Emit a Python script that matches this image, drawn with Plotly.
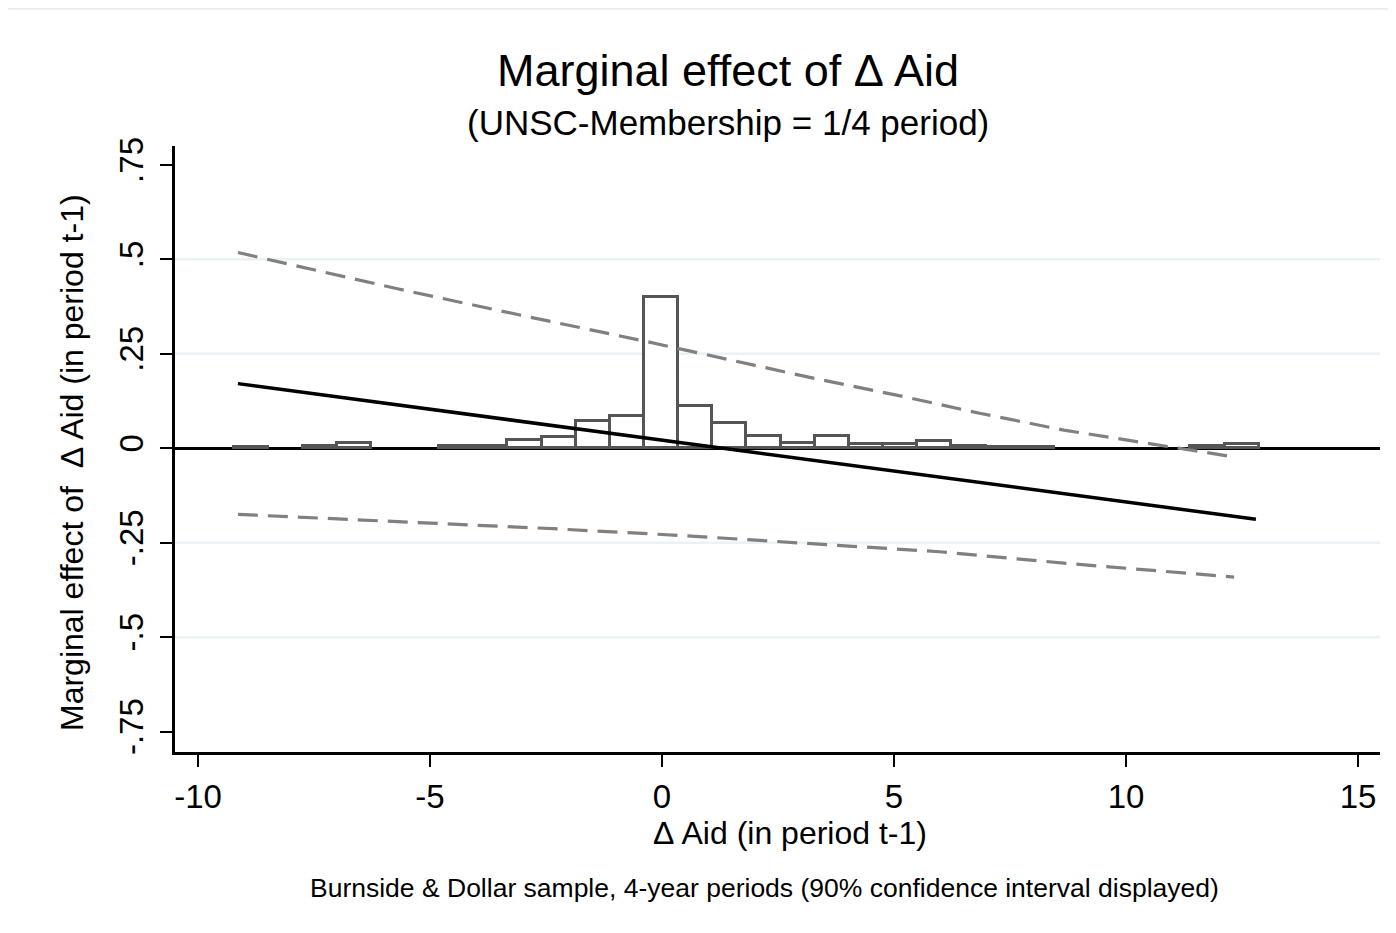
import plotly.graph_objects as go

# ---- data ----
bin_start = -9.22
bin_width = 0.736
hist_frac = [0.002, None, 0.005, 0.014, None, None, 0.007, 0.007, 0.022, 0.029,
             0.071, 0.086, 0.401, 0.113, 0.067, 0.033, 0.014, 0.032, 0.010, 0.010,
             0.020, 0.006, 0.002, 0.002, None, None, None, None, 0.005, 0.011]

me_x = [-9.14, 12.80]
me_y = [0.171, -0.188]

upper_x = [-9.14, -5.70, -3.04, -0.39, 1.98, 3.32, 5.08, 6.87, 8.66, 11.10, 12.33]
upper_y = [0.518, 0.422, 0.352, 0.284, 0.220, 0.184, 0.140, 0.092, 0.048, 0.001, -0.023]

lower_x = [-9.14, -7.10, -4.90, -2.35, 0.43, 3.20, 5.98, 8.75, 12.33]
lower_y = [-0.175, -0.186, -0.199, -0.213, -0.231, -0.252, -0.274, -0.305, -0.341]

x_ticks = [-10, -5, 0, 5, 10, 15]
x_ticktext = ["-10", "-5", "0", "5", "10", "15"]
y_ticks = [-0.75, -0.5, -0.25, 0, 0.25, 0.5, 0.75]
y_ticktext = ["-.75", "-.5", "-.25", "0", ".25", ".5", ".75"]
grid_vals = [-0.5, -0.25, 0.25, 0.5]

title = "Marginal effect of \u0394 Aid"
subtitle = "(UNSC-Membership = 1/4 period)"
x_title = "\u0394 Aid (in period t-1)"
y_title = "Marginal effect of  \u0394 Aid (in period t-1)"
note = "Burnside & Dollar sample, 4-year periods (90% confidence interval displayed)"

FONT = "Liberation Sans, Arial, sans-serif"

# ---- figure ----
bx, by = [], []
for i, h in enumerate(hist_frac):
    if h is not None:
        bx.append(bin_start + bin_width * (i + 0.5))
        by.append(h)

fig = go.Figure()
fig.add_trace(go.Bar(x=bx, y=by, width=bin_width,
                     marker=dict(color="white", line=dict(color="#555555", width=3)),
                     hoverinfo="skip"))
fig.add_trace(go.Scatter(x=upper_x, y=upper_y, mode="lines",
                         line=dict(color="#808080", width=3.2, dash="20px,10px")))
fig.add_trace(go.Scatter(x=lower_x, y=lower_y, mode="lines",
                         line=dict(color="#808080", width=3.2, dash="20px,10px")))
fig.add_trace(go.Scatter(x=me_x, y=me_y, mode="lines",
                         line=dict(color="black", width=3.5)))

for g in grid_vals:
    fig.add_shape(type="line", xref="paper", yref="y", x0=0, x1=1, y0=g, y1=g,
                  line=dict(color="#eaf2f3", width=2.5), layer="below")

# thin light line at the very top of the image
fig.add_shape(type="line", xref="paper", yref="paper",
              x0=-0.139, x1=1.02, y0=1.2265, y1=1.2265,
              line=dict(color="#e6eef0", width=2))

fig.update_layout(
    width=1396, height=933,
    margin=dict(l=167, r=24, t=138, b=189),
    paper_bgcolor="white", plot_bgcolor="white",
    showlegend=False, bargap=0, barmode="overlay",
    font=dict(family=FONT, color="black"),
    xaxis=dict(range=[-10.496, 15.474], tickvals=x_ticks, ticktext=x_ticktext,
               showline=True, linecolor="black", linewidth=2.5,
               ticks="outside", ticklen=12, tickwidth=2, tickcolor="black",
               ticklabelstandoff=2,
               showgrid=False, zeroline=False,
               tickfont=dict(size=33, family=FONT, color="black")),
    yaxis=dict(range=[-0.804, 0.80], tickvals=y_ticks, ticktext=y_ticktext,
               tickangle=-90, ticklabelstandoff=4,
               showline=True, linecolor="black", linewidth=2.5,
               ticks="outside", ticklen=12, tickwidth=2, tickcolor="black",
               showgrid=False, zeroline=True, zerolinecolor="black", zerolinewidth=3,
               tickfont=dict(size=33, family=FONT, color="black")),
    annotations=[
        dict(text=title, xref="paper", yref="paper", x=0.4589, y=1.1254,
             xanchor="center", yanchor="middle", showarrow=False,
             font=dict(size=45, family=FONT, color="black")),
        dict(text=subtitle, xref="paper", yref="paper", x=0.4593, y=1.038,
             xanchor="center", yanchor="middle", showarrow=False,
             font=dict(size=35, family=FONT, color="black")),
        dict(text=x_title, xref="paper", yref="paper", x=0.5104, y=-0.1337,
             xanchor="center", yanchor="middle", showarrow=False,
             font=dict(size=32, family=FONT, color="black")),
        dict(text=y_title, xref="paper", yref="paper", x=-0.0855, y=0.4785,
             xanchor="center", yanchor="middle", showarrow=False, textangle=-90,
             font=dict(size=32, family=FONT, color="black")),
        dict(text=note, xref="paper", yref="paper", x=0.4896, y=-0.2244,
             xanchor="center", yanchor="middle", showarrow=False,
             font=dict(size=26.5, family=FONT, color="black")),
    ],
)

fig.write_html("out.html")
